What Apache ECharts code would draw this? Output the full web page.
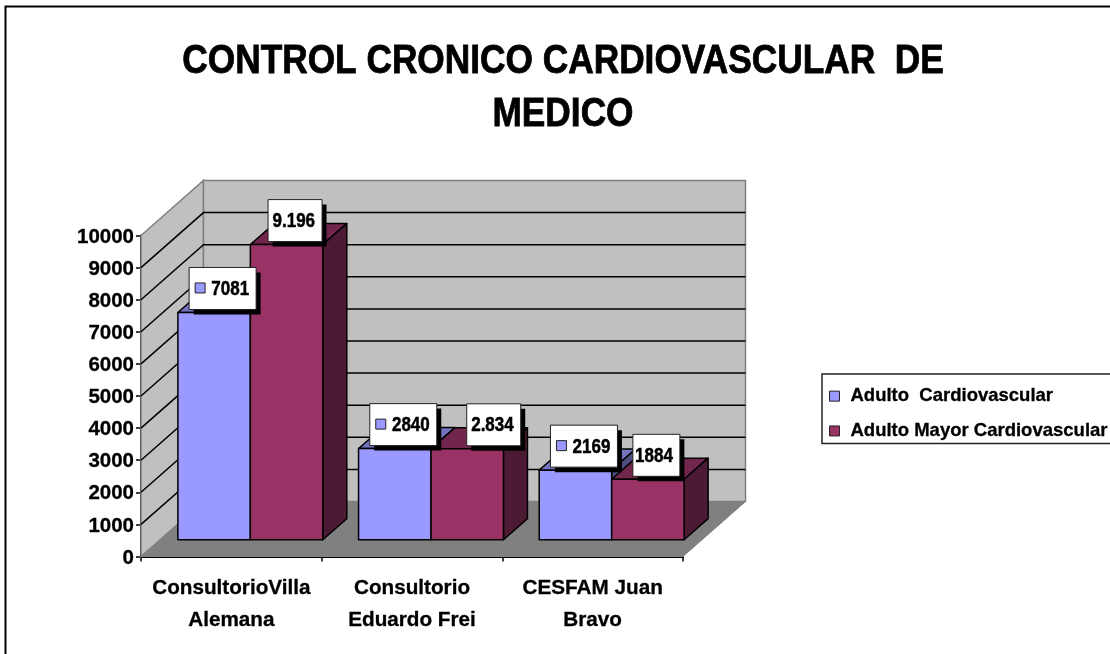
<!DOCTYPE html>
<html><head><meta charset="utf-8">
<style>html,body{margin:0;padding:0;background:#fff}#c{width:1110px;height:654px}</style>
<script src="https://cdn.jsdelivr.net/npm/echarts@6/dist/echarts.min.js"></script>
</head><body><div id="c"></div>
<script>
const titleLines = 'CONTROL CRONICO CARDIOVASCULAR  DE\nMEDICO';
const categories = ['ConsultorioVilla\nAlemana', 'Consultorio\nEduardo Frei', 'CESFAM Juan\nBravo'];
const seriesNames = ['Adulto  Cardiovascular', 'Adulto Mayor Cardiovascular'];
const adultoValues = [7081, 2840, 2169];
const mayorValues = [9196, 2834, 1884];
const adultoLabels = ['7081', '2840', '2169'];
const mayorLabels = ['9.196', '2.834', '1884'];
const gridValues = [1000,2000,3000,4000,5000,6000,7000,8000,9000,10000];

const DX = 62.5, DY = -55;         // wall depth
const FRONT = 0.304, BACK = 0.688; // bar front/back as a fraction of the depth
const BAR_W = 0.401;               // bar width as fraction of category
const FONT = '"Liberation Sans", Arial, sans-serif';
const PAL = [
  {front:'#9999FF', top:'#7373BF', side:'#4D4D80'},
  {front:'#993366', top:'#73264D', side:'#4D1A33'}
];
const chart = echarts.init(document.getElementById('c'), null, {renderer:'canvas'});

function wallsItem(params, api) {
  if (params.dataIndex !== 0) return null;
  const o = api.coord([0, 0]);
  const band = api.size([1, 0])[0];
  const x0 = o[0] - band / 2, x1 = x0 + band * categories.length, y0 = o[1];
  const yT = api.coord([0, 10000])[1];
  const grey = {fill:'#C0C0C0', stroke:'#808080', lineWidth:1.5};
  const kids = [
    {type:'polygon', shape:{points:[[x0,y0],[x0,yT],[x0+DX,yT+DY],[x0+DX,y0+DY]]}, style:grey},
    {type:'polygon', shape:{points:[[x0+DX,y0+DY],[x0+DX,yT+DY],[x1+DX,yT+DY],[x1+DX,y0+DY]]}, style:grey},
    {type:'polygon', shape:{points:[[x0,y0],[x1,y0],[x1+DX,y0+DY],[x0+DX,y0+DY]]}, style:{fill:'#808080', stroke:'#808080', lineWidth:1}}
  ];
  gridValues.forEach(v => {
    const y = api.coord([0, v])[1];
    if (v < 10000) kids.push({type:'polyline', shape:{points:[[x0,y],[x0+DX,y+DY],[x1+DX,y+DY]]}, style:{fill:null, stroke:'#000', lineWidth:1.5}});
  });
  return {type:'group', children:kids};
}

function barItem(si, labels) {
  return function (params, api) {
    const cat = api.value(0), val = api.value(1);
    const band = api.size([1, 0])[0];
    const w = band * BAR_W;
    const c = api.coord([cat, val]), b = api.coord([cat, 0]);
    const left0 = c[0] - w + si * w;
    const fx = DX * FRONT, fy = DY * FRONT, bx = DX * (BACK - FRONT), by = DY * (BACK - FRONT);
    const l = left0 + fx, r = l + w, t = c[1] + fy, bt = b[1] + fy;
    const pal = PAL[si];
    const edge = {stroke:'#000', lineWidth:1.5, lineJoin:'round'};
    const kids = [
      {type:'polygon', shape:{points:[[l,t],[r,t],[r+bx,t+by],[l+bx,t+by]]}, style:{fill:pal.top, ...edge}},
      {type:'polygon', shape:{points:[[r,t],[r+bx,t+by],[r+bx,bt+by],[r,bt]]}, style:{fill:pal.side, ...edge}},
      {type:'rect', shape:{x:l,y:t,width:w,height:bt-t}, style:{fill:pal.front, ...edge}}
    ];
    const txt = labels[params.dataIndex];
    const textW = txt.length === 5 ? 41 : 34;
    const hasKey = si === 0;
    const boxW = textW + (hasKey ? 33 : 13);
    const boxH = 42;
    const nudge = (si === 1 && params.dataIndex === 1) ? 18 : 0;   // this label sits further right
    const bx0 = l + w / 2 + 8.5 + nudge - boxW / 2, by0 = t - 3 - boxH;
    kids.push(
      {type:'rect', z2:50, shape:{x:bx0+4.5,y:by0+5,width:boxW,height:boxH}, style:{fill:'#000'}},
      {type:'rect', z2:51, shape:{x:bx0,y:by0,width:boxW,height:boxH}, style:{fill:'#fff', stroke:'#222', lineWidth:1}},
      {type:'text', z2:52, x:bx0 + boxW - 7, y:by0 + boxH/2 + 1, scaleX:0.85,
        style:{x:0, y:0, text:txt, align:'right', verticalAlign:'middle', font:'bold 20px '+FONT, fill:'#000', stroke:'#000', lineWidth:0.5}}
    );
    if (hasKey) kids.push({type:'rect', z2:52, shape:{x:bx0+6,y:by0+15.5,width:10,height:10}, style:{fill:pal.front, stroke:'#222', lineWidth:1}});
    return {type:'group', children:kids};
  };
}

chart.setOption({
  animation:false,
  backgroundColor:'#fff',
  legend:{
    orient:'vertical', left:822, top:374, padding:[12.5,30,3,7], itemGap:15.5, itemWidth:10, itemHeight:10,
    borderColor:'#222', borderWidth:1.5, backgroundColor:'#fff',
    icon:'rect', data:seriesNames,
    textStyle:{fontFamily:FONT, fontWeight:'bold', fontSize:18.5, color:'#000', padding:[0,0,0,6], textBorderColor:'#000', textBorderWidth:0.3},
    itemStyle:{borderColor:'#222', borderWidth:1}
  },
  grid:{left:141, right:427, top:235.5, bottom:97.5},
  xAxis:{
    type:'category', data:categories, boundaryGap:true,
    axisLine:{lineStyle:{color:'#000', width:2}},
    axisTick:{show:true, length:5, lineStyle:{color:'#000', width:1.5}},
    axisLabel:{interval:0, color:'#000', fontFamily:FONT, fontWeight:'bold', fontSize:20.7, lineHeight:32, margin:16, textBorderColor:'#000', textBorderWidth:0.3},
    splitLine:{show:false}
  },
  yAxis:{
    type:'value', min:0, max:10000, interval:1000,
    axisLine:{show:true, lineStyle:{color:'#000', width:2}},
    axisTick:{show:true, length:5, lineStyle:{color:'#000', width:1.5}},
    axisLabel:{margin:7, formatter:v=>'{n|'+v+'}',
      rich:{n:{color:'#000', fontFamily:FONT, fontWeight:'bold', fontSize:20.5, padding:[3,0,0,0], textBorderColor:'#000', textBorderWidth:0.3}}},
    splitLine:{show:false}
  },
  series:[
    {type:'custom', name:'walls', silent:true, z:1, renderItem:wallsItem, data:[[0,0]], encode:{x:0,y:1}, clip:false},
    {type:'custom', name:seriesNames[0], z:2, itemStyle:{color:PAL[0].front}, renderItem:barItem(0, adultoLabels),
      data:adultoValues.map((v,i)=>[i,v]), encode:{x:0,y:1}, clip:false},
    {type:'custom', name:seriesNames[1], z:2, itemStyle:{color:PAL[1].front}, renderItem:barItem(1, mayorLabels),
      data:mayorValues.map((v,i)=>[i,v]), encode:{x:0,y:1}, clip:false}
  ],
  graphic:[
    {type:'rect', z:-1, silent:true, shape:{x:5.5,y:6.5,width:1200,height:700}, style:{fill:null, stroke:'#000', lineWidth:2}},
    {type:'text', z:10, silent:true, x:563, y:35, scaleX:0.86,
      style:{x:0, y:0, text:titleLines, align:'center', verticalAlign:'top', font:'bold 41px "Liberation Sans", Arial, sans-serif', lineHeight:53, fill:'#000', stroke:'#000', lineWidth:0.8}}
  ]
});
</script></body></html>
